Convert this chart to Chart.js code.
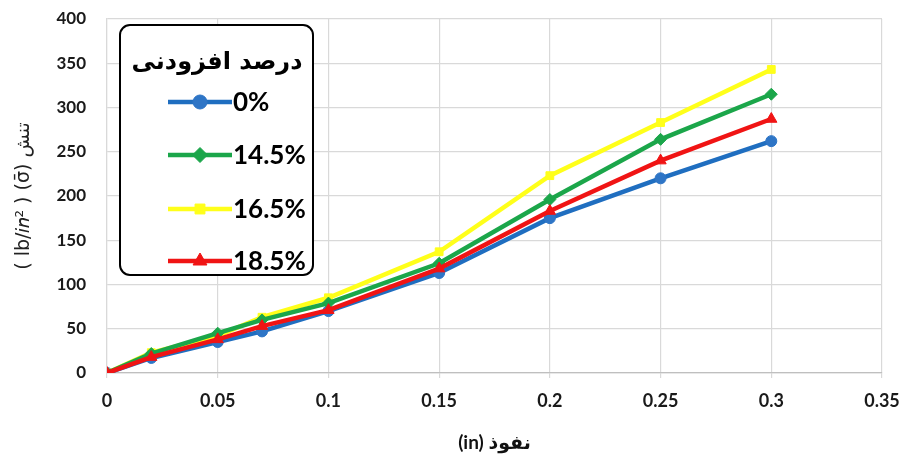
<!DOCTYPE html>
<html><head><meta charset="utf-8">
<script src="https://cdn.jsdelivr.net/npm/chart.js@4"></script>
<style>html,body{margin:0;padding:0;background:#fff}#wrap{width:901px;height:458px}</style>
</head><body><div id="wrap"><canvas id="c" width="901" height="458"></canvas></div>
<script>
const xValues = [0, 0.02, 0.05, 0.07, 0.1, 0.15, 0.2, 0.25, 0.3];
const series0 = [0, 17, 35, 47, 70, 113, 175, 220, 262];
const series145 = [0, 22, 45, 60, 79, 124, 196, 264, 315];
const series165 = [0, 23, 42, 63, 85, 137, 223, 283, 343];
const series185 = [0, 18, 38, 53, 71, 118, 183, 240, 287];
const seriesLabels = ['0%', '14.5%', '16.5%', '18.5%'];
const legendTitle = 'درصد افزودنی';
const xTitle = '(in) نفوذ';
const yTitle = '( lb/𝑖𝑛² ) (σ̄) تنش';

const pts = arr => arr.map((y, i) => ({x: xValues[i], y}));
const FONT = "Lato, 'DejaVu Sans', sans-serif";

const legendPlugin = {
  id: 'boxLegend',
  afterDraw(chart) {
    const ctx = chart.ctx, a = chart.chartArea;
    const x0 = a.left + 13, y0 = a.top + 6, w = 193, h = 250, r = 10;
    ctx.save();
    ctx.fillStyle = '#fff';
    ctx.strokeStyle = '#000';
    ctx.lineWidth = 2;
    ctx.beginPath();
    ctx.roundRect(x0, y0, w, h, r);
    ctx.fill(); ctx.stroke();
    ctx.fillStyle = '#000';
    ctx.font = "bold 24px 'DejaVu Sans', sans-serif";
    ctx.textAlign = 'center'; ctx.textBaseline = 'middle';
    ctx.fillText(legendTitle, x0 + 97, y0 + 38);
    const rows = [y0 + 77, y0 + 130, y0 + 184, y0 + 236];
    chart.data.datasets.forEach((ds, i) => {
      const y = rows[i];
      ctx.strokeStyle = ds.borderColor; ctx.lineWidth = 4.5;
      ctx.beginPath(); ctx.moveTo(x0 + 48, y); ctx.lineTo(x0 + 112, y); ctx.stroke();
      ctx.fillStyle = ds.pointBackgroundColor; ctx.strokeStyle = ds.pointBorderColor; ctx.lineWidth = 1;
      Chart.helpers.drawPoint(ctx, {pointStyle: ds.pointStyle, radius: ds.pointRadius + 1.5, borderWidth: 1, rotation: 0}, x0 + 80, y);
      ctx.fillStyle = '#000';
      ctx.font = "bold 26px " + FONT;
      ctx.textAlign = 'left';
      ctx.fillText(ds.label, x0 + 113, y + 1);
    });
    ctx.restore();
  }
};

const chart = new Chart(document.getElementById('c'), {
  type: 'line',
  data: {
    datasets: [
      {label: seriesLabels[0], data: pts(series0), borderColor: '#1F6EC0', backgroundColor: '#2E75C6', pointBackgroundColor: '#2E75C6', pointBorderColor: '#2E75C6', pointStyle: 'circle', pointRadius: 5.5, order: 3},
      {label: seriesLabels[1], data: pts(series145), borderColor: '#1BA64A', backgroundColor: '#1BA64A', pointBackgroundColor: '#1BA64A', pointBorderColor: '#1BA64A', pointStyle: 'rectRot', pointRadius: 6, order: 1},
      {label: seriesLabels[2], data: pts(series165), borderColor: '#FFFF1A', backgroundColor: '#FFFF1A', pointBackgroundColor: '#FFFF1A', pointBorderColor: '#FFFF1A', pointStyle: 'rect', pointRadius: 5.5, order: 2},
      {label: seriesLabels[3], data: pts(series185), borderColor: '#F01414', backgroundColor: '#F01414', pointBackgroundColor: '#F01414', pointBorderColor: '#F01414', pointStyle: 'triangle', pointRadius: 6.5, order: 0}
    ].map(d => Object.assign(d, {borderWidth: 4.5, tension: 0, pointBorderWidth: 1, pointHoverRadius: d.pointRadius}))
  },
  options: {
    responsive: false, animation: false,
    layout: {padding: {left: 17, right: 19, top: 19, bottom: 6}},
    plugins: {legend: {display: false}, tooltip: {enabled: false}},
    scales: {
      x: {
        type: 'linear', min: 0, max: 0.35,
        afterFit: s => { s.paddingLeft = 0; s.paddingRight = 0; },
        ticks: {stepSize: 0.05, color: '#1a1a1a', font: {family: FONT, size: 18, weight: 'bold'}, padding: 12, maxRotation: 0, callback: v => String(+v.toFixed(2))},
        grid: {color: '#d9d9d9', lineWidth: 1.2, tickLength: 5, drawTicks: true},
        border: {color: '#bfbfbf', width: 1.2},
        title: {display: true, text: xTitle, color: '#111', font: {family: FONT, size: 19, weight: 'bold'}, padding: {top: 8}}
      },
      y: {
        min: 0, max: 400,
        afterFit: s => { s.paddingTop = 0; s.paddingBottom = 0; },
        ticks: {stepSize: 50, color: '#1a1a1a', font: {family: FONT, size: 17, weight: 'bold'}, padding: 21},
        grid: {color: '#d9d9d9', lineWidth: 1.2, drawTicks: false},
        border: {color: '#d9d9d9', width: 1.2},
        title: {display: true, text: yTitle, color: '#222', font: {family: "'DejaVu Sans', sans-serif", size: 19}, padding: {top: 0, bottom: 0}}
      }
    }
  },
  plugins: [legendPlugin]
});

// fine-tune the layout padding so the plot area sits where the reference's does
const target = {left: 107, top: 19, right: 882, bottom: 373};
for (let i = 0; i < 4; i++) {
  const a = chart.chartArea, p = chart.options.layout.padding;
  p.top += target.top - a.top;
  p.left += target.left - a.left;
  p.right += a.right - target.right;
  p.bottom += a.bottom - target.bottom;
  chart.update();
}
</script></body></html>
